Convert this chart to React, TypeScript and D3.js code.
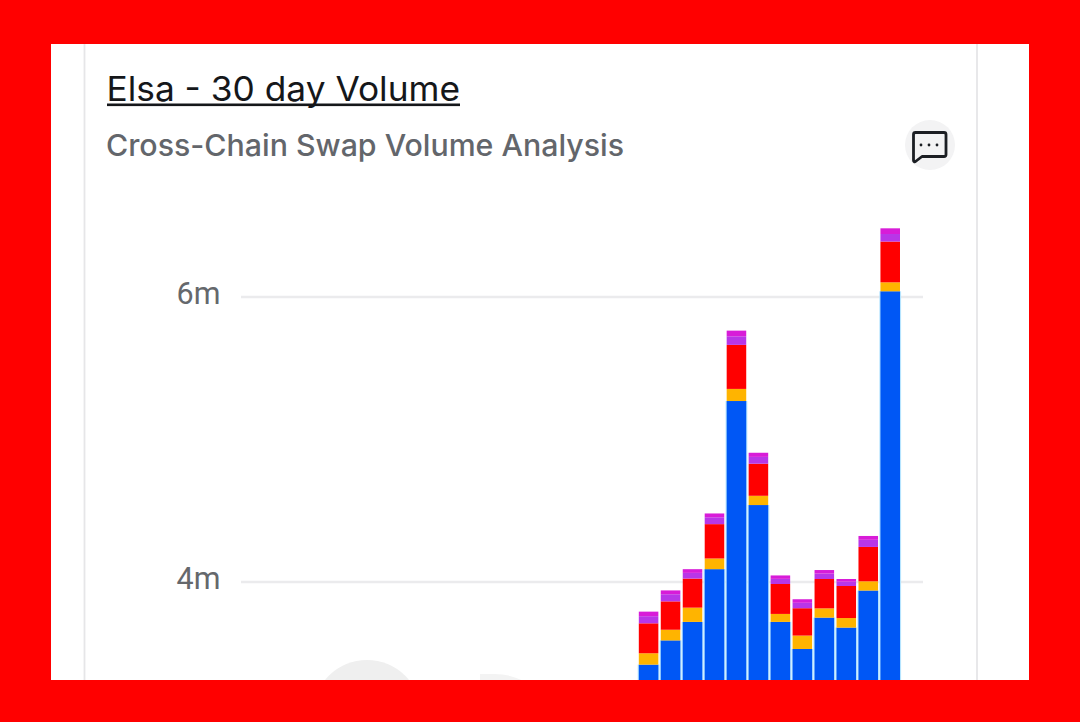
import React from "react";
import * as d3 from "d3";

const W = 1080;
const H = 722;

// Only the last twelve days of the 30-day window rise into the visible crop.
const days = ["d19", "d20", "d21", "d22", "d23", "d24", "d25", "d26", "d27", "d28", "d29", "d30"];
const blue = [3.42, 3.59, 3.72, 4.09, 5.27, 4.54, 3.72, 3.53, 3.75, 3.68, 3.94, 6.04];
const orange = [0.08, 0.075, 0.1, 0.075, 0.085, 0.065, 0.056, 0.094, 0.065, 0.067, 0.065, 0.063];
const red = [0.21, 0.199, 0.204, 0.241, 0.309, 0.225, 0.21, 0.192, 0.206, 0.225, 0.241, 0.286];
const purple = [0.05, 0.05, 0.04, 0.048, 0.06, 0.048, 0.036, 0.038, 0.038, 0.03, 0.05, 0.053];
const magenta = [0.032, 0.027, 0.026, 0.027, 0.04, 0.029, 0.024, 0.025, 0.025, 0.019, 0.027, 0.04];

const seriesKeys = ["blue", "orange", "red", "purple", "magenta"];
const seriesColors = ["#0057f5", "#ffb400", "#ff0000", "#b836e8", "#d81cd8"];
const tickValues = [4, 6];
const tickLabels = ["4m", "6m"];

const rows = days.map((day, i) => ({
  day,
  blue: blue[i],
  orange: orange[i],
  red: red[i],
  purple: purple[i],
  magenta: magenta[i],
}));

const stacked = d3.stack<any>().keys(seriesKeys)(rows);

const x = d3.scaleBand<string>().domain(days).range([637.6, 901.2]).paddingInner(0.11).paddingOuter(0.055);
const y = d3.scaleLinear().domain([0, 6]).range([1152, 297]);

const sans = "Inter, 'Noto Sans', sans-serif";

export default function App() {
  return (
    <svg width={W} height={H} viewBox={`0 0 ${W} ${H}`} style={{ position: "fixed", left: 0, top: 0, display: "block" }}>
      <defs>
        <clipPath id="card">
          <rect x={51} y={44} width={978} height={636} />
        </clipPath>
      </defs>
      <rect width={W} height={H} fill="#ff0000" />
      <rect x={51} y={44} width={978} height={636} fill="#ffffff" />
      <line x1={84.5} x2={84.5} y1={44} y2={680} stroke="#e6e6e8" strokeWidth={1.8} />
      <line x1={977} x2={977} y1={44} y2={680} stroke="#e6e6e8" strokeWidth={1.8} />

      <text x={106.5} y={101} fontFamily={sans} fontSize={34} fill="#15171a" textLength={353.5} lengthAdjust="spacingAndGlyphs">
        Elsa - 30 day Volume
      </text>
      <rect x={107} y={103.5} width={353} height={2.6} fill="#15171a" />
      <text x={106} y={155.5} fontFamily={sans} fontSize={30} fontWeight={500} fill="#63666b" textLength={518} lengthAdjust="spacingAndGlyphs">
        Cross-Chain Swap Volume Analysis
      </text>

      <circle cx={930} cy={145} r={25} fill="#f3f3f4" />
      <path
        d="M913.5 134.5 a2 2 0 0 1 2 -2 h28.5 a2 2 0 0 1 2 2 v20 a2 2 0 0 1 -2 2 h-22 l-6.5 5 a1.2 1.2 0 0 1 -2 -1 z"
        fill="none"
        stroke="#1b1e23"
        strokeWidth={2.8}
        strokeLinejoin="round"
      />
      <circle cx={921} cy={145} r={1.4} fill="#1b1e23" />
      <circle cx={929} cy={145} r={1.4} fill="#1b1e23" />
      <circle cx={937} cy={145} r={1.4} fill="#1b1e23" />

      <g clipPath="url(#card)">
        <circle cx={367} cy={714} r={54} fill="#efefef" />
        <path d="M480 674 h14 a62 62 0 0 1 42 16 h-56 z" fill="#f3f3f3" />

        {tickValues.map((t, i) => (
          <g key={t}>
            <line x1={241} x2={923} y1={y(t)} y2={y(t)} stroke="#ebebed" strokeWidth={2.6} />
            <text x={220.5} y={y(t) + 7} textAnchor="end" fontFamily="Roboto, sans-serif" fontSize={30.5} fill="#65686c">
              {tickLabels[i]}
            </text>
          </g>
        ))}

        {days.map((d, i) => (
          <rect
            key={d}
            x={x(d)! - 1.1}
            width={x.bandwidth() + 2.2}
            y={y(blue[i])}
            height={y(0) - y(blue[i])}
            fill="#b5e4ff"
          />
        ))}

        {stacked.map((s, si) => (
          <g key={s.key} fill={seriesColors[si]}>
            {s.map((seg, i) => (
              <rect key={days[i]} x={x(days[i])} width={x.bandwidth()} y={y(seg[1])} height={y(seg[0]) - y(seg[1])} />
            ))}
          </g>
        ))}
      </g>
    </svg>
  );
}
